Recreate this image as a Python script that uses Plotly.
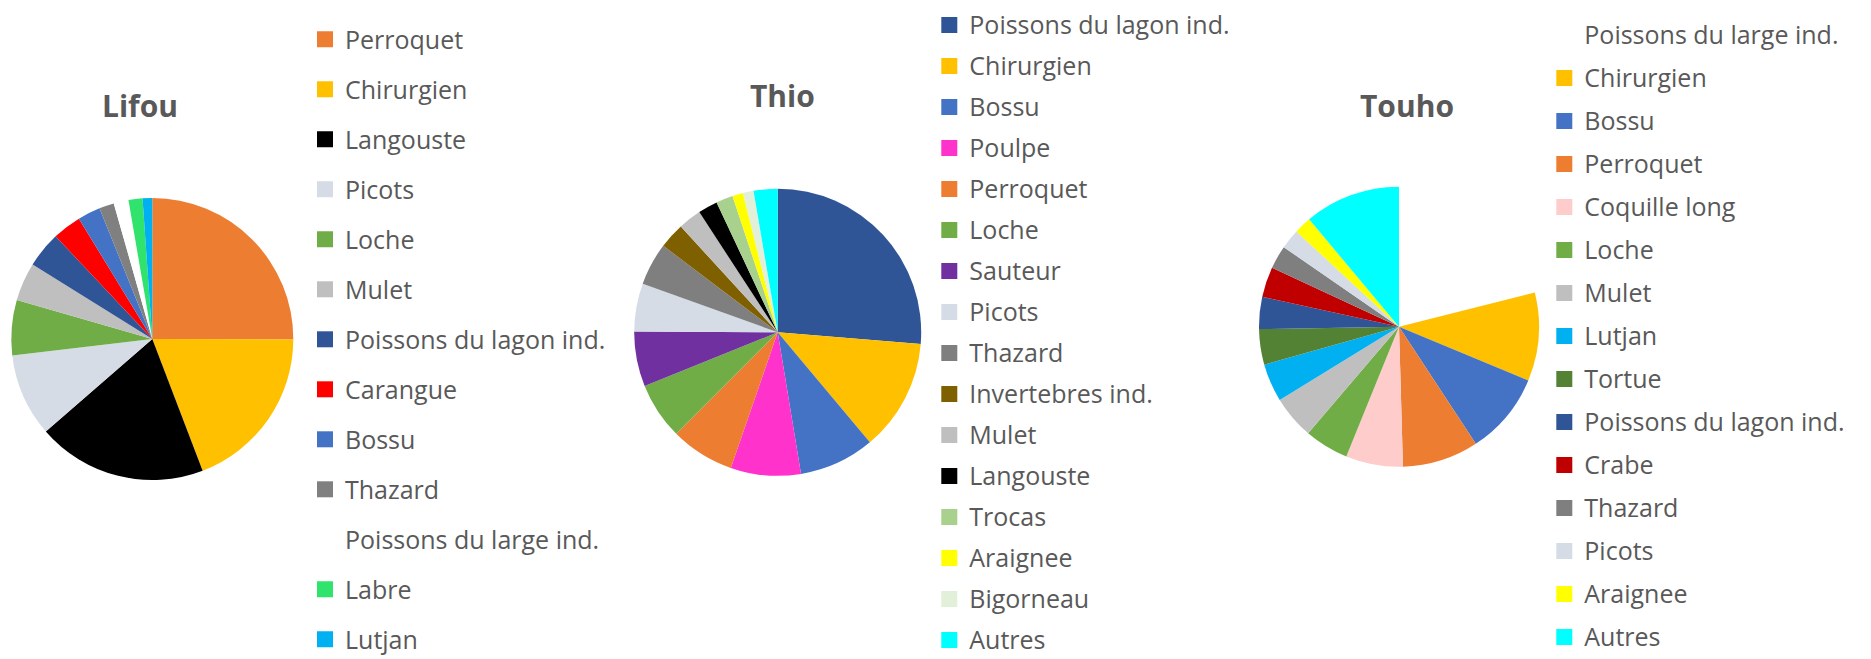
import plotly.graph_objects as go

# page is 1871x659; the html body has an 8px default margin, so the
# figure is drawn 8px smaller and all page positions are shifted by 8px
PAGE_W, PAGE_H = 1871, 659
OFF = 8
W, H = PAGE_W - OFF, PAGE_H - OFF

# ---------------- data ----------------
lifou_labels = ["Perroquet", "Chirurgien", "Langouste", "Picots", "Loche", "Mulet",
                "Poissons du lagon ind.", "Carangue", "Bossu", "Thazard",
                "Poissons du large ind.", "Labre", "Lutjan"]
lifou_values = [25.0, 19.1, 19.4, 9.5, 6.3, 4.4, 4.1, 3.3, 2.6, 1.7, 1.7, 1.6, 1.1]
lifou_colors = ["#ED7D31", "#FFC000", "#000000", "#D6DCE5", "#70AD47", "#BFBFBF",
                "#2F5597", "#FF0000", "#4472C4", "#808080", "#FFFFFF", "#2FE36C", "#00B0F0"]

thio_labels = ["Poissons du lagon ind.", "Chirurgien", "Bossu", "Poulpe", "Perroquet",
               "Loche", "Sauteur", "Picots", "Thazard", "Invertebres ind.", "Mulet",
               "Langouste", "Trocas", "Araignee", "Bigorneau", "Autres"]
thio_values = [26.3, 12.6, 8.5, 7.9, 7.2, 6.4, 6.2, 5.4, 4.8, 2.9, 2.6, 2.2, 1.9, 1.2, 1.2, 2.7]
thio_colors = ["#2F5597", "#FFC000", "#4472C4", "#FF33CC", "#ED7D31", "#70AD47",
               "#7030A0", "#D6DCE5", "#7F7F7F", "#7F6000", "#BFBFBF", "#000000",
               "#A9D18E", "#FFFF00", "#E2F0D9", "#00FFFF"]

touho_labels = ["Poissons du large ind.", "Chirurgien", "Bossu", "Perroquet", "Coquille long",
                "Loche", "Mulet", "Lutjan", "Tortue", "Poissons du lagon ind.", "Crabe",
                "Thazard", "Picots", "Araignee", "Autres"]
touho_values = [21.1, 10.2, 9.5, 8.8, 6.6, 5.1, 5.0, 4.4, 4.1, 3.7, 3.5, 2.7, 2.3, 2.0, 11.1]
touho_colors = ["#FFFFFF", "#FFC000", "#4472C4", "#ED7D31", "#FFCCCC", "#70AD47",
                "#BFBFBF", "#00B0F0", "#548235", "#2F5597", "#C00000", "#7F7F7F",
                "#D6DCE5", "#FFFF00", "#00FFFF"]

titles = ["Lifou", "Thio", "Touho"]

# ---------------- layout helpers (page pixel -> paper) ----------------
def px_x(x):
    return (x - OFF) / W

def px_y(y):
    return 1 - (y - OFF) / H

def domain(cx, cy, r):
    return dict(x=[px_x(cx - r), px_x(cx + r)], y=[px_y(cy + r), px_y(cy - r)])

FONT = "Open Sans"
TXT = "#595959"
LEG_FONT = 16      # sets the legend row height
LBL_SIZE = 25      # visible label size

pies = [
    (lifou_labels, lifou_values, lifou_colors, domain(152.3, 339, 141), "legend", "lifou"),
    (thio_labels, thio_values, thio_colors, domain(777.7, 332.3, 143.5), "legend2", "thio"),
    (touho_labels, touho_values, touho_colors, domain(1399, 326.7, 140), "legend3", "touho"),
]

fig = go.Figure()
for labels, values, colors, dom, leg, key in pies:
    fig.add_trace(go.Pie(
        labels=labels, values=values, sort=False, direction="clockwise", rotation=0,
        marker=dict(colors=colors, line=dict(width=0)),
        textinfo="none", domain=dom, showlegend=False, name=key,
        hovertemplate="%{label}: %{value}<extra></extra>",
    ))
    # legend entries (one per category, so row spacing can be controlled)
    for i, (lab, col) in enumerate(zip(labels, colors)):
        fig.add_trace(go.Scatter(
            x=[None], y=[None], mode="markers",
            name=f'<span style="font-size:{LBL_SIZE}px;baseline-shift:-3px">{lab}</span>',
            marker=dict(symbol="square", size=16, color=col, line=dict(width=0)),
            legend=leg, legendgroup=f"{key}_{i}", showlegend=True, hoverinfo="skip",
        ))

ROW_H = LEG_FONT * 1.3 + 3

def legend_cfg(sym_left, first_center, spacing):
    top = max(first_center - (5 + ROW_H / 2), OFF)
    return dict(
        x=px_x(sym_left - 14), y=px_y(top), xanchor="left", yanchor="top",
        font=dict(family=FONT, size=LEG_FONT, color=TXT),
        bgcolor="rgba(0,0,0,0)", borderwidth=0,
        itemsizing="trace", traceorder="grouped", tracegroupgap=spacing - ROW_H,
        itemclick=False, itemdoubleclick=False,
    )

title_pos = [(139.8, 106), (782.5, 95.7), (1407, 105)]
annotations = [
    dict(text=f"<b>{t}</b>", x=px_x(x), y=px_y(y), xref="paper", yref="paper",
         xanchor="center", yanchor="middle", showarrow=False,
         font=dict(family=FONT, size=30, color=TXT))
    for t, (x, y) in zip(titles, title_pos)
]

fig.update_layout(
    width=W, height=H,
    margin=dict(l=0, r=0, t=0, b=0),
    paper_bgcolor="white", plot_bgcolor="white",
    xaxis=dict(visible=False), yaxis=dict(visible=False),
    legend=legend_cfg(319, 39.3, 50.0),
    legend2=legend_cfg(943.3, 22.7, 41.0),
    legend3=legend_cfg(1558.3, 35, 43.0),
    annotations=annotations,
)

fig.write_html("out.html")
